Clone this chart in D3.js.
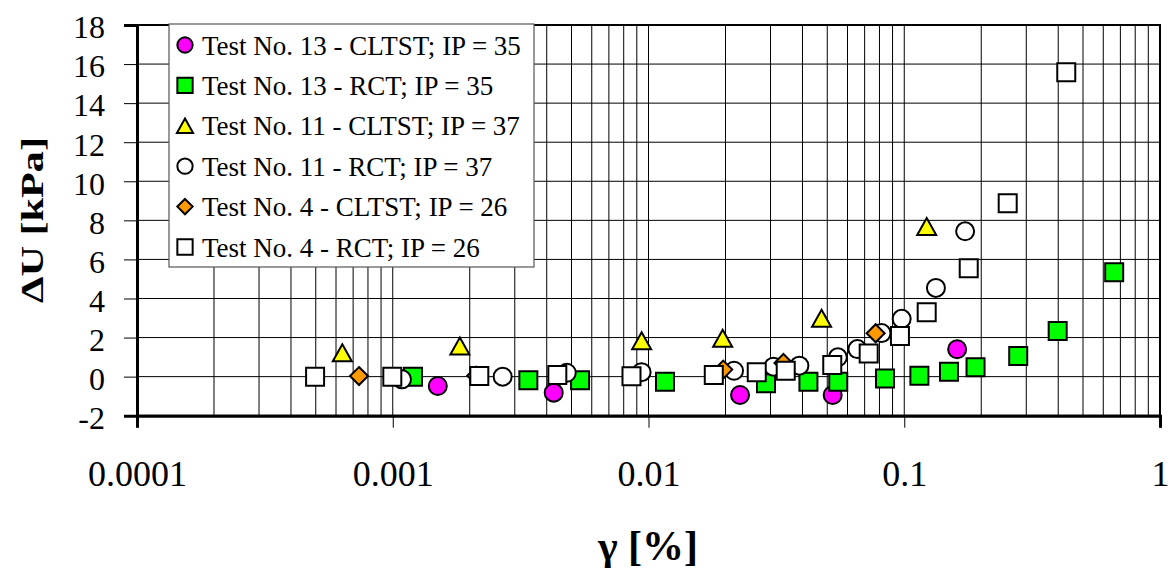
<!DOCTYPE html>
<html><head><meta charset="utf-8">
<script src="https://cdn.jsdelivr.net/npm/d3@7/dist/d3.min.js"></script>
<style>body{margin:0;background:#fff}svg{display:block}</style>
</head><body>
<svg id="chart" width="1172" height="568"></svg>
<script>
// ---- data ----
const xTicks = [0.0001, 0.001, 0.01, 0.1, 1];
const xTickLabels = ["0.0001", "0.001", "0.01", "0.1", "1"];
const yTicks = [-2, 0, 2, 4, 6, 8, 10, 12, 14, 16, 18];

const seriesNames = [
  "Test No. 13 - CLTST; IP = 35",
  "Test No. 13 - RCT; IP = 35",
  "Test No. 11 - CLTST; IP = 37",
  "Test No. 11 - RCT; IP = 37",
  "Test No. 4 - CLTST; IP = 26",
  "Test No. 4 - RCT; IP = 26"
];

const t13CltstX = [0.0015, 0.00426, 0.0228, 0.0525, 0.161];
const t13CltstY = [-0.48, -0.82, -0.94, -0.94, 1.40];

const t13RctX = [0.0012, 0.00339, 0.0054, 0.0116, 0.0288, 0.0422, 0.0552, 0.0841, 0.1146, 0.1496, 0.190, 0.279, 0.398, 0.662];
const t13RctY = [0.0, -0.19, -0.19, -0.26, -0.34, -0.26, -0.26, -0.09, 0.05, 0.25, 0.48, 1.05, 2.33, 5.34];

const t11CltstX = [0.000635, 0.00183, 0.0094, 0.0195, 0.0475, 0.1224];
const t11CltstY = [1.22, 1.57, 1.84, 1.96, 2.99, 7.68];

const t11RctX = [0.001087, 0.00269, 0.00479, 0.0094, 0.0216, 0.0308, 0.0389, 0.0550, 0.0656, 0.0815, 0.0977, 0.133, 0.173];
const t11RctY = [-0.14, 0.0, 0.20, 0.23, 0.30, 0.51, 0.56, 0.99, 1.41, 2.23, 2.96, 4.54, 7.44];

const t4CltstX = [0.000738, 0.00212, 0.0196, 0.0337, 0.0773];
const t4CltstY = [0.03, 0.05, 0.36, 0.70, 2.22];

const t4RctX = [0.000497, 0.000996, 0.00218, 0.0044, 0.00858, 0.0180, 0.0265, 0.0344, 0.0523, 0.0726, 0.0962, 0.1224, 0.1787, 0.2538, 0.430];
const t4RctY = [0.0, 0.0, 0.03, 0.08, 0.02, 0.08, 0.22, 0.30, 0.59, 1.19, 2.08, 3.29, 5.55, 8.87, 15.58];

// ---- styles ----
const seriesStyle = [
  {shape: "circle", fill: "#ff00ff"},
  {shape: "square", fill: "#00ff00"},
  {shape: "triangle", fill: "#ffff00"},
  {shape: "circle", fill: "#ffffff"},
  {shape: "diamond", fill: "#ff9900"},
  {shape: "square", fill: "#ffffff"}
];
const seriesX = [t13CltstX, t13RctX, t11CltstX, t11RctX, t4CltstX, t4RctX];
const seriesY = [t13CltstY, t13RctY, t11CltstY, t11RctY, t4CltstY, t4RctY];

const FONT = '"Liberation Serif"';
const svg = d3.select("#chart");
const L = 137, R = 1160, T = 25, B = 415.7;
const x = d3.scaleLog().domain([1e-4, 1]).range([L, R]);
const y = d3.scaleLinear().domain([-2, 18]).range([B, T]);

svg.append("rect").attr("width", 1172).attr("height", 568).attr("fill", "#fff");

// grid
const vGrid = [];
for (let k = -4; k < 0; k++) for (let i = 1; i <= 9; i++) vGrid.push(i * Math.pow(10, k));
vGrid.push(1);
const g = svg.append("g");
g.selectAll("line.v").data(vGrid).join("line")
  .attr("x1", d => x(d)).attr("x2", d => x(d)).attr("y1", T).attr("y2", B)
  .attr("stroke", "#000").attr("stroke-width", 1);
g.selectAll("line.h").data(yTicks).join("line")
  .attr("x1", L).attr("x2", R).attr("y1", d => y(d)).attr("y2", d => y(d))
  .attr("stroke", "#000").attr("stroke-width", 1);

// frame
svg.append("rect").attr("x", L).attr("y", T).attr("width", R - L).attr("height", B - T)
  .attr("fill", "none").attr("stroke", "#000").attr("stroke-width", 2);

// axes
const yAxis = svg.append("g").attr("transform", `translate(${L},0)`)
  .call(d3.axisLeft(y).tickValues(yTicks).tickSize(13).tickPadding(19).tickFormat(d => String(d)));
yAxis.select(".domain").attr("stroke-width", 3);
yAxis.selectAll(".tick line").attr("stroke-width", 1);
yAxis.selectAll("text").style("font-size", "32px").attr("dy", "0.4em");

const xAxis = svg.append("g").attr("transform", `translate(0,${B})`)
  .call(d3.axisBottom(x).tickValues(xTicks).tickSize(12).tickFormat((d, i) => xTickLabels[i]));
xAxis.select(".domain").attr("stroke-width", 3);
xAxis.selectAll("text").style("font-size", "36px").attr("y", 70).attr("dy", 0);

// markers
function markerPath(shape, s) {
  if (shape === "circle") return d3.symbol(d3.symbolCircle, Math.PI * (9 * s) * (9 * s))();
  if (shape === "square") return d3.symbol(d3.symbolSquare, (18 * s) * (18 * s))();
  if (shape === "triangle") {
    const w = 19 * s, h = 17 * s;
    return `M0,${-h / 2}L${w / 2},${h / 2}L${-w / 2},${h / 2}Z`;
  }
  const r = 9 * s;
  return `M0,${-r}L${r},0L0,${r}L${-r},0Z`;
}

seriesX.forEach((xs, si) => {
  const st = seriesStyle[si];
  const pts = xs.map((v, i) => [v, seriesY[si][i]]);
  svg.append("g").selectAll("path").data(pts).join("path")
    .attr("transform", d => `translate(${x(d[0])},${y(d[1])})`)
    .attr("d", markerPath(st.shape, 1))
    .attr("fill", st.fill).attr("stroke", "#000").attr("stroke-width", 2)
    .attr("stroke-linejoin", "miter");
});

// legend
const lg = svg.append("g");
lg.append("rect").attr("x", 169).attr("y", 24).attr("width", 365).attr("height", 243)
  .attr("fill", "#fff").attr("stroke", "#555").attr("stroke-width", 1.2);
seriesNames.forEach((name, i) => {
  const cy = 45 + i * 40.4;
  lg.append("path").attr("transform", `translate(185,${cy})`)
    .attr("d", markerPath(seriesStyle[i].shape, 0.85))
    .attr("fill", seriesStyle[i].fill).attr("stroke", "#000").attr("stroke-width", 2);
  lg.append("text").attr("x", 202).attr("y", cy + 9.5)
    .style("font-size", "27px").text(name);
});

// titles
svg.append("text").attr("transform", "translate(43,220) rotate(-90)")
  .attr("text-anchor", "middle")
  .style("font-weight", "bold").style("font-size", "31px")
  .attr("textLength", 166).attr("lengthAdjust", "spacingAndGlyphs").text("ΔU [kPa]");
svg.append("text").attr("x", 648).attr("y", 560)
  .attr("text-anchor", "middle")
  .style("font-weight", "bold").style("font-size", "42px").text("γ [%]");

// font for every text
svg.selectAll("text").style("font-family", FONT).attr("fill", "#000");
</script>
</body></html>
